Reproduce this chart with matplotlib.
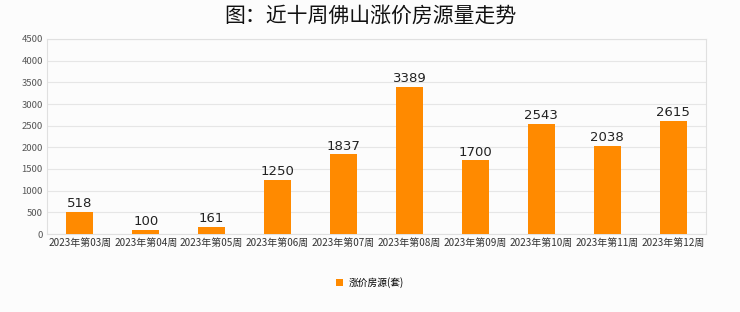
import matplotlib
matplotlib.use("Agg")
import matplotlib.pyplot as plt
from matplotlib.patches import Patch

plt.rcParams['font.family'] = ['Noto Sans CJK SC', 'DejaVu Sans']

weeks = ["2023年第03周", "2023年第04周", "2023年第05周", "2023年第06周", "2023年第07周",
         "2023年第08周", "2023年第09周", "2023年第10周", "2023年第11周", "2023年第12周"]
values = [518, 100, 161, 1250, 1837, 3389, 1700, 2543, 2038, 2615]
yticks = [0, 500, 1000, 1500, 2000, 2500, 3000, 3500, 4000, 4500]
title = "图：近十周佛山涨价房源量走势"
series_name = "涨价房源(套)"

bar_color = "#FF8A00"
bg = "#FCFCFC"

fig = plt.figure(figsize=(7.4, 3.12), dpi=100, facecolor=bg)
ax = fig.add_axes([0.0635, 0.25, 0.8905, 0.625])
ax.set_facecolor(bg)

x = list(range(len(weeks)))
bars = ax.bar(x, values, width=0.41, color=bar_color, zorder=3)
for xi, v in zip(x, values):
    ax.text(xi, v + 40, str(v), ha='center', va='bottom', fontsize=9.5,
            family='DejaVu Sans', color='#222222', zorder=4)

ax.set_xlim(-0.5, len(weeks) - 0.5)
ax.set_ylim(0, 4500)
ax.set_yticks(yticks)
ax.set_yticklabels([str(t) for t in yticks], fontsize=6.8, color='#555555')
ax.set_xticks(x)
ax.set_xticklabels(weeks, fontsize=7.2, color='#333333')
ax.tick_params(axis='both', length=0, pad=3)
ax.grid(axis='y', color='#E6E6E6', linewidth=0.8, zorder=0)
for s in ax.spines.values():
    s.set_color('#E0E0E0')
    s.set_linewidth(0.8)

fig.text(0.5, 0.95, title, ha='center', va='center', fontsize=15, fontweight='medium', color='#111111')

leg = fig.legend(handles=[Patch(facecolor=bar_color, label=series_name)],
                 loc='center', bbox_to_anchor=(0.5, 0.095), frameon=False,
                 fontsize=7, handlelength=0.7, handleheight=0.7, handletextpad=0.6)

fig.savefig("out.png", dpi=100, facecolor=bg)
